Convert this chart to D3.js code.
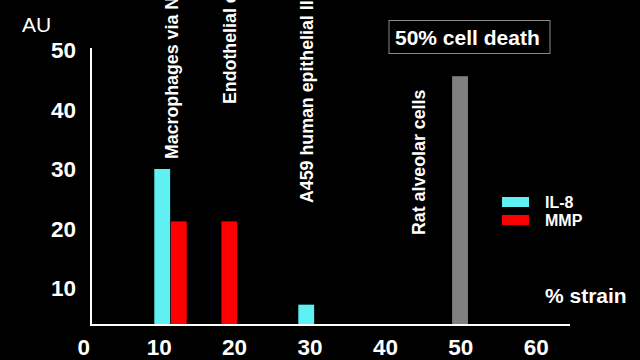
<!DOCTYPE html>
<html><head><meta charset="utf-8">
<script src="https://cdn.jsdelivr.net/npm/d3@7"></script>
<style>html,body{margin:0;padding:0;background:#000;}svg{display:block;}</style>
</head><body>
<svg id="chart" width="640" height="360"></svg>
<script>
// ---- data ----
const xTicks = [0, 10, 20, 30, 40, 50, 60];
const yTicks = [10, 20, 30, 40, 50];
const il8Strain = [10.4, 29.5];
const il8Values = [30, 7.2];
const mmpStrain = [12.6, 19.3];
const mmpValues = [21.2, 21.2];
const ratStrain = [49.9];
const ratValues = [45.6];
const seriesNames = ["IL-8", "MMP"];
const cellLabels = ["Macrophages via NF-κB", "Endothelial cells", "A459 human epithelial II cells", "Rat alveolar cells"];
const cellLabelStrain = [12.5, 20.2, 30.4, 45.2];
const cellLabelBottom = [159, 104, 203, 235];

const colors = {"IL-8": "#5ef0f2", "MMP": "#ff0000", rat: "#808080"};
const font = "'Liberation Sans', Arial, sans-serif";

const svg = d3.select("#chart");
svg.append("rect").attr("width", 640).attr("height", 360).attr("fill", "#000");

const x = d3.scaleLinear().domain([0, 60]).range([83.8, 536.2]);
const y = d3.scaleLinear().domain([0, 50]).range([347.5, 50]);
const axisY = 325, axisX = 91;
const barW = x(2.1) - x(0);

// bars
function bars(strains, values, color) {
  svg.append("g").selectAll("rect").data(strains).join("rect")
    .attr("x", d => x(d) - barW / 2)
    .attr("width", barW)
    .attr("y", (d, i) => y(values[i]))
    .attr("height", (d, i) => axisY - y(values[i]))
    .attr("fill", color);
}
bars(il8Strain, il8Values, colors["IL-8"]);
bars(mmpStrain, mmpValues, colors["MMP"]);
bars(ratStrain, ratValues, colors.rat);

// axes lines
svg.append("line").attr("x1", axisX).attr("x2", axisX).attr("y1", 48).attr("y2", axisY + 1)
  .attr("stroke", "#fff").attr("stroke-width", 2);
svg.append("line").attr("x1", axisX).attr("x2", 570).attr("y1", axisY).attr("y2", axisY)
  .attr("stroke", "#fff").attr("stroke-width", 2);

// tick labels
svg.append("g").selectAll("text").data(xTicks).join("text")
  .attr("x", d => x(d)).attr("y", 355)
  .attr("text-anchor", "middle").attr("fill", "#fff")
  .attr("font-family", font).attr("font-weight", "bold").attr("font-size", 22.5)
  .text(d => d);
svg.append("g").selectAll("text").data(yTicks).join("text")
  .attr("x", 76).attr("y", d => y(d) + 8)
  .attr("text-anchor", "end").attr("fill", "#fff")
  .attr("font-family", font).attr("font-weight", "bold").attr("font-size", 22.5)
  .text(d => d);

svg.append("text").attr("x", 22).attr("y", 32).attr("fill", "#fff")
  .attr("font-family", font).attr("font-size", 21).text("AU");
svg.append("text").attr("x", 545).attr("y", 303).attr("fill", "#fff")
  .attr("font-family", font).attr("font-weight", "bold").attr("font-size", 21).text("% strain");

// vertical cell labels
svg.append("g").selectAll("text").data(cellLabels).join("text")
  .attr("transform", (d, i) => `translate(${x(cellLabelStrain[i])},${cellLabelBottom[i]}) rotate(-90)`)
  .attr("fill", "#fff").attr("font-family", font).attr("font-weight", "bold").attr("font-size", 17.8)
  .text(d => d);

// 50% cell death box
svg.append("rect").attr("x", 389).attr("y", 20.5).attr("width", 161).attr("height", 33)
  .attr("fill", "#000").attr("stroke", "#8a8a8a").attr("stroke-width", 1);
svg.append("text").attr("x", 395).attr("y", 44.5).attr("fill", "#fff")
  .attr("font-family", font).attr("font-weight", "bold").attr("font-size", 21).text("50% cell death");

// legend
const lg = svg.append("g").selectAll("g").data(seriesNames).join("g")
  .attr("transform", (d, i) => `translate(502,${197 + i * 18})`);
lg.append("rect").attr("width", 27).attr("height", 10).attr("fill", d => colors[d]);
lg.append("text").attr("x", 43).attr("y", 11).attr("fill", "#fff")
  .attr("font-family", font).attr("font-weight", "bold").attr("font-size", 16).text(d => d);
</script>
</body></html>
